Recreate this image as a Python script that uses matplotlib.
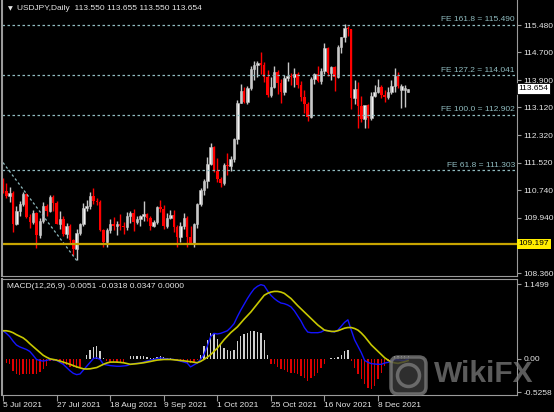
import numpy as np
import pandas as pd
import matplotlib
matplotlib.use('Agg')
import matplotlib.pyplot as plt
from matplotlib.patches import FancyBboxPatch

plt.rcParams['font.family'] = ['Liberation Sans Narrow', 'Liberation Sans', 'DejaVu Sans']

# ---- data (USDJPY daily, 5 Jul - 21 Dec 2021) ----
opens = [111.00, 110.72, 110.58, 110.65, 109.77, 110.14, 110.35, 110.62, 109.98, 109.82,
         110.08, 109.45, 109.84, 110.28, 110.14, 110.55, 110.38, 109.78, 109.90, 109.48,
         109.70, 109.30, 109.05, 109.50, 109.77, 110.24, 110.28, 110.58, 110.42, 110.39,
         109.59, 109.24, 109.60, 109.77, 109.72, 109.78, 109.70, 109.67, 110.00, 110.07,
         109.83, 109.92, 110.01, 110.04, 109.93, 109.70, 109.83, 110.26, 110.20, 109.71,
         109.94, 110.03, 109.68, 109.38, 109.71, 109.93, 109.40, 109.23, 109.77, 110.33,
         110.74, 110.99, 111.50, 111.99, 111.29, 111.05, 110.93, 111.45, 111.42, 111.62,
         112.22, 113.24, 113.59, 113.27, 113.66, 114.22, 114.34, 114.38, 114.32, 114.00,
         113.47, 113.70, 114.13, 113.82, 113.55, 113.96, 114.01, 113.98, 114.06, 113.77,
         113.41, 113.20, 112.85, 113.93, 114.08, 113.87, 114.15, 114.81, 114.09, 114.27,
         114.00, 114.84, 115.13, 115.40, 115.36, 113.38, 113.64, 113.15, 112.79, 113.18,
         112.80, 113.45, 113.56, 113.71, 113.48, 113.42, 113.55, 113.72, 114.03, 113.60,
         113.60, 113.550]
highs = [111.10, 110.95, 110.82, 110.72, 110.27, 110.43, 110.70, 110.66, 110.05, 110.18,
         110.10, 109.94, 110.40, 110.33, 110.60, 110.59, 110.44, 110.13, 110.00, 109.79,
         109.76, 109.33, 109.63, 109.80, 110.37, 110.46, 110.69, 110.80, 110.50, 110.46,
         109.62, 109.64, 109.92, 109.96, 109.86, 110.05, 109.83, 110.10, 110.13, 110.21,
         110.00, 110.03, 110.42, 110.09, 110.01, 109.87, 110.27, 110.45, 110.30, 110.08,
         110.16, 110.16, 109.73, 109.82, 110.07, 109.99, 109.70, 109.80, 110.38, 110.79,
         111.07, 111.68, 112.08, 112.00, 111.65, 111.11, 111.53, 111.80, 111.72, 112.25,
         113.32, 113.79, 113.69, 113.72, 114.29, 114.45, 114.45, 114.70, 114.42, 114.20,
         113.98, 114.30, 114.20, 113.92, 114.05, 114.43, 114.10, 114.25, 114.14, 113.87,
         113.60, 113.28, 114.00, 114.11, 114.30, 114.26, 114.97, 114.86, 114.29, 114.30,
         114.90, 115.15, 115.52, 115.45, 115.37, 113.90, 113.83, 113.43, 113.15, 113.21,
         113.56, 113.75, 113.94, 113.77, 113.62, 113.71, 113.90, 114.26, 114.14, 113.80,
         113.77, 113.655]
lows = [110.65, 110.52, 110.40, 109.53, 109.74, 110.00, 110.28, 109.95, 109.66, 109.78,
        109.07, 109.36, 109.80, 109.99, 110.10, 110.15, 109.77, 109.61, 109.42, 109.36,
        109.19, 108.88, 108.72, 109.44, 109.72, 110.13, 110.19, 110.35, 110.30, 109.56,
        109.12, 109.11, 109.52, 109.60, 109.44, 109.60, 109.48, 109.59, 109.80, 109.56,
        109.78, 109.72, 109.85, 109.86, 109.59, 109.69, 109.77, 110.11, 109.61, 109.66,
        109.91, 109.53, 109.11, 109.24, 109.63, 109.11, 109.22, 109.11, 109.65, 110.27,
        110.59, 110.81, 111.45, 111.26, 110.96, 110.82, 110.90, 111.18, 111.30, 111.56,
        112.05, 113.23, 113.25, 113.21, 113.62, 113.91, 113.98, 114.06, 113.85, 113.41,
        113.42, 113.66, 113.50, 113.25, 113.47, 113.87, 113.77, 113.69, 113.66, 113.30,
        112.95, 112.73, 112.80, 113.80, 113.83, 113.78, 114.08, 114.02, 113.90, 113.59,
        113.97, 114.67, 115.00, 115.17, 113.06, 113.20, 112.53, 112.69, 112.53, 112.53,
        112.75, 113.41, 113.52, 113.38, 113.28, 113.37, 113.50, 113.55, 113.68, 113.10,
        113.13, 113.550]
closes = [110.72, 110.58, 110.65, 109.77, 110.14, 110.35, 110.62, 109.98, 109.82, 110.08,
          109.45, 109.84, 110.28, 110.14, 110.55, 110.38, 109.78, 109.90, 109.48, 109.70,
          109.30, 109.05, 109.50, 109.77, 110.24, 110.28, 110.58, 110.42, 110.39, 109.59,
          109.24, 109.60, 109.77, 109.72, 109.78, 109.70, 109.67, 110.00, 110.07, 109.83,
          109.92, 110.01, 110.04, 109.93, 109.70, 109.83, 110.26, 110.20, 109.71, 109.94,
          110.03, 109.68, 109.38, 109.71, 109.93, 109.40, 109.23, 109.77, 110.33, 110.74,
          110.99, 111.50, 111.99, 111.29, 111.05, 110.93, 111.45, 111.42, 111.62, 112.22,
          113.24, 113.59, 113.27, 113.66, 114.22, 114.34, 114.38, 114.32, 114.00, 113.47,
          113.70, 114.13, 113.82, 113.55, 113.96, 114.01, 113.98, 114.06, 113.77, 113.41,
          113.20, 112.85, 113.93, 114.08, 113.87, 114.15, 114.81, 114.09, 114.27, 114.00,
          114.84, 115.13, 115.40, 115.36, 113.38, 113.64, 113.15, 112.79, 113.18, 112.80,
          113.45, 113.56, 113.71, 113.48, 113.42, 113.55, 113.72, 114.03, 113.72, 113.72,
          113.68, 113.654]

macd_main = [0.43, 0.39, 0.34, 0.27, 0.21, 0.18, 0.16, 0.14, 0.11, 0.05,
             -0.015, -0.03, -0.04, -0.03, -0.015, -0.02, -0.03, -0.06, -0.09, -0.14,
             -0.19, -0.23, -0.25, -0.24, -0.18, -0.12, -0.06, 0.0, 0.01, -0.015,
             -0.09, -0.10, -0.11, -0.115, -0.12, -0.12, -0.115, -0.11, -0.09, -0.08,
             -0.075, -0.07, -0.055, -0.04, -0.025, -0.015, 0.0, 0.01, 0.0, -0.005,
             -0.01, -0.015, -0.03, -0.04, -0.055, -0.07, -0.13, -0.10, -0.07, -0.015,
             0.06, 0.19, 0.34, 0.39, 0.38, 0.39, 0.41, 0.43, 0.48, 0.54,
             0.65, 0.75, 0.84, 0.93, 1.01, 1.08, 1.12, 1.145, 1.13, 1.05,
             0.98, 0.93, 0.89, 0.86, 0.85, 0.83, 0.80, 0.74, 0.66, 0.58,
             0.48, 0.41, 0.40, 0.40, 0.40, 0.41, 0.44, 0.43, 0.42, 0.41,
             0.44, 0.50, 0.56, 0.60, 0.44, 0.29, 0.19, 0.09, -0.03, -0.06,
             -0.08, -0.085, -0.09, -0.09, -0.07, -0.06, -0.04, -0.02, -0.02, -0.03,
             -0.03, -0.005]
macd_signal = [0.43, 0.43, 0.42, 0.40, 0.37, 0.345, 0.32, 0.28, 0.23, 0.185,
               0.14, 0.095, 0.05, 0.02, -0.005, -0.015, -0.025, -0.04, -0.056, -0.073,
               -0.09, -0.11, -0.13, -0.145, -0.16, -0.163, -0.16, -0.15, -0.14, -0.115,
               -0.09, -0.07, -0.056, -0.055, -0.056, -0.06, -0.066, -0.078, -0.09, -0.085,
               -0.08, -0.073, -0.066, -0.056, -0.046, -0.035, -0.025, -0.02, -0.015, -0.015,
               -0.015, -0.02, -0.025, -0.03, -0.036, -0.043, -0.05, -0.058, -0.066, -0.045,
               -0.015, 0.02, 0.06, 0.11, 0.16, 0.225, 0.29, 0.345, 0.40, 0.445,
               0.49, 0.55, 0.61, 0.665, 0.72, 0.785, 0.85, 0.915, 0.98, 1.01,
               1.03, 1.04, 1.04, 1.03, 1.01, 0.97, 0.93, 0.875, 0.82, 0.77,
               0.72, 0.67, 0.62, 0.57, 0.52, 0.48, 0.44, 0.43, 0.42, 0.42,
               0.43, 0.45, 0.47, 0.48, 0.48, 0.465, 0.44, 0.395, 0.34, 0.275,
               0.21, 0.16, 0.11, 0.06, 0.01, -0.025, -0.056, -0.068, -0.076, -0.062,
               -0.05, -0.032]
macd_hist = [0.0, -0.07, -0.09, -0.19, -0.24, -0.26, -0.245, -0.245, -0.245, -0.245,
             -0.245, -0.21, -0.17, -0.12, -0.04, -0.04, -0.04, -0.066, -0.09, -0.107,
             -0.127, -0.127, -0.14, -0.127, -0.01, 0.06, 0.137, 0.178, 0.188, 0.11,
             0.01, -0.04, -0.056, -0.056, -0.05, -0.05, -0.05, 0.0, 0.035, 0.035,
             0.035, 0.045, 0.045, 0.025, 0.01, 0.01, 0.02, 0.045, 0.03, 0.01,
             0.005, -0.01, -0.04, -0.05, -0.05, -0.066, -0.07, -0.05, -0.03, 0.06,
             0.19, 0.29, 0.39, 0.40, 0.31, 0.21, 0.16, 0.127, 0.122, 0.137,
             0.265, 0.35, 0.38, 0.40, 0.42, 0.43, 0.415, 0.39, 0.29, 0.06,
             -0.09, -0.09, -0.127, -0.16, -0.18, -0.21, -0.22, -0.22, -0.245, -0.27,
             -0.295, -0.35, -0.30, -0.27, -0.22, -0.15, -0.09, 0.0, 0.005, 0.005,
             0.025, 0.06, 0.11, 0.137, -0.04, -0.14, -0.245, -0.32, -0.40, -0.45,
             -0.47, -0.42, -0.32, -0.22, -0.115, -0.04, 0.0, 0.045, 0.045, 0.045,
             0.045, 0.035]

fe_levels = [115.490, 114.041, 112.902, 111.303]
fe_names = ['161.8', '127.2', '100.0', '61.8']
fe_leg = ([0, 22], [111.53, 108.72])   # (bar, price) of the expansion base leg
support = 109.197
price_ticks = [115.480, 114.700, 113.900, 113.120, 112.320, 111.520, 110.740, 109.940, 108.360]
macd_ticks = [1.1499, 0.0, -0.5258]
macd_tick_labels = ['1.1499', '0.00', '-0.5258']
dates = pd.bdate_range('2021-07-05', periods=len(closes))

opens, highs, lows, closes = map(np.array, (opens, highs, lows, closes))
idx = np.arange(len(closes))

W, H = 554, 412
fig = plt.figure(figsize=(W / 100, H / 100), dpi=100, facecolor='black')
frame = '#9a9a9a'
txt = '#e6e6e6'
fe_col = '#90bcc0'

ax = fig.add_axes([2 / W, 1 - 276 / H, 515 / W, 276 / H])
ax.set_facecolor('black')
ax.set_xlim(-0.3, 153.5)
ax.set_ylim(108.274, 116.198)

up = closes >= opens
body = np.maximum(np.abs(closes - opens), 0.012)
ax.vlines(idx[up], lows[up], highs[up], color='#c8c8c8', lw=1)
ax.vlines(idx[~up], lows[~up], highs[~up], color='#ff0000', lw=1)
ax.bar(idx[up], body[up], bottom=opens[up], width=0.74, color='white',
       edgecolor='#b8b8b8', lw=0.4)
ax.bar(idx[~up], body[~up], bottom=closes[~up], width=0.74, color='#ff0000', lw=0)

for lvl, name in zip(fe_levels, fe_names):
    ax.axhline(lvl, color=fe_col, lw=0.9, ls=(0, (2, 2)))
    ax.text(152.9, lvl + 0.04, f'FE {name} = {lvl:.3f}', ha='right', va='bottom',
            fontsize=6, color=fe_col)
ax.plot(fe_leg[0], fe_leg[1], color=fe_col, lw=0.9, ls=(0, (2, 2)))

ax.axhline(support, color='#c8a400', lw=1.6)

ax.yaxis.tick_right()
ax.set_yticks(price_ticks)
ax.set_yticklabels([f'{p:.3f}' for p in price_ticks])
ax.tick_params(axis='y', colors=frame, labelcolor=txt, labelsize=6, length=3, pad=1.5)
ax.set_xticks([])
ax.spines['top'].set_visible(False)
for s in ['left', 'right', 'bottom']:
    ax.spines[s].set_color(frame)
ax.spines['left'].set_linewidth(1.5)

tr = ax.get_yaxis_transform()
ax.text(1.003, support, f'{support:.3f}', transform=tr, va='center', ha='left',
        fontsize=6, color='black', clip_on=False,
        bbox=dict(boxstyle='square,pad=0.2', fc='#ffee00', ec='none'))
ax.text(1.003, closes[-1], f'{closes[-1]:.3f}', transform=tr, va='center', ha='left',
        fontsize=6, color='black', clip_on=False,
        bbox=dict(boxstyle='square,pad=0.2', fc='white', ec='black', lw=0.6))

fig.text(8 / W, 1 - 9 / H, '▼', fontsize=4.5, color=txt, va='center',
         family=['DejaVu Sans'])
fig.text(17 / W, 1 - 9 / H,
         f'USDJPY,Daily  {opens[-1]:.3f} {highs[-1]:.3f} {lows[-1]:.3f} {closes[-1]:.3f}',
         fontsize=6, color=txt, va='center')

# ---- MACD pane ----
ax2 = fig.add_axes([2 / W, 1 - 395 / H, 515 / W, 116 / H])
ax2.set_facecolor('black')
ax2.set_xlim(-0.3, 153.5)
ax2.set_ylim(-0.5659, 1.2326)
hist = np.array(macd_hist)
ax2.bar(idx, hist, width=0.4, color=np.where(hist > 0, '#cfcfcf', '#e00000'), lw=0)
ax2.plot(idx, macd_main, color='#1414ff', lw=1.0)
ax2.plot(idx, macd_signal, color='#c8c800', lw=1.2)

ax2.yaxis.tick_right()
ax2.set_yticks(macd_ticks)
ax2.set_yticklabels(macd_tick_labels)
ax2.tick_params(axis='y', colors=frame, labelcolor=txt, labelsize=6, length=3, pad=1.5)
date_pos = idx[::16]
ax2.set_xticks(date_pos)
ax2.set_xticklabels([f'{d.day} {d:%b %Y}' for d in dates[date_pos]])
ax2.tick_params(axis='x', colors=frame, labelcolor=txt, labelsize=6, length=4, pad=1)
for lab in ax2.get_xticklabels():
    lab.set_ha('left')
for s in ax2.spines.values():
    s.set_color(frame)
ax2.spines['left'].set_linewidth(1.5)

fig.text(7 / W, 1 - 286 / H, 'MACD(12,26,9) -0.0051 -0.0318 0.0347 0.0000',
         fontsize=6, color=txt, va='center')

# ---- WikiFX watermark ----
wm = fig.add_axes([389 / W, 1 - 396 / H, 39 / W, 41 / H])
wm.set_xlim(0, 39)
wm.set_ylim(0, 41)
wm.axis('off')
wm.add_patch(FancyBboxPatch((2, 2), 35, 37, boxstyle='round,pad=0,rounding_size=7',
                            fc='#3a3a3a', ec='#7a7a7a', lw=2.5, alpha=0.8))
wm.add_patch(plt.Circle((19.5, 20.5), 11, fc='none', ec='#6a6a6a', lw=2.5))
fig.text(434 / W, 1 - 374 / H, 'WikiFX', fontsize=21.5, fontweight='bold',
         color='#7a7a7a', alpha=0.75, va='center', family=['Liberation Sans', 'DejaVu Sans'])

fig.savefig('out.png', dpi=100, facecolor='black')
